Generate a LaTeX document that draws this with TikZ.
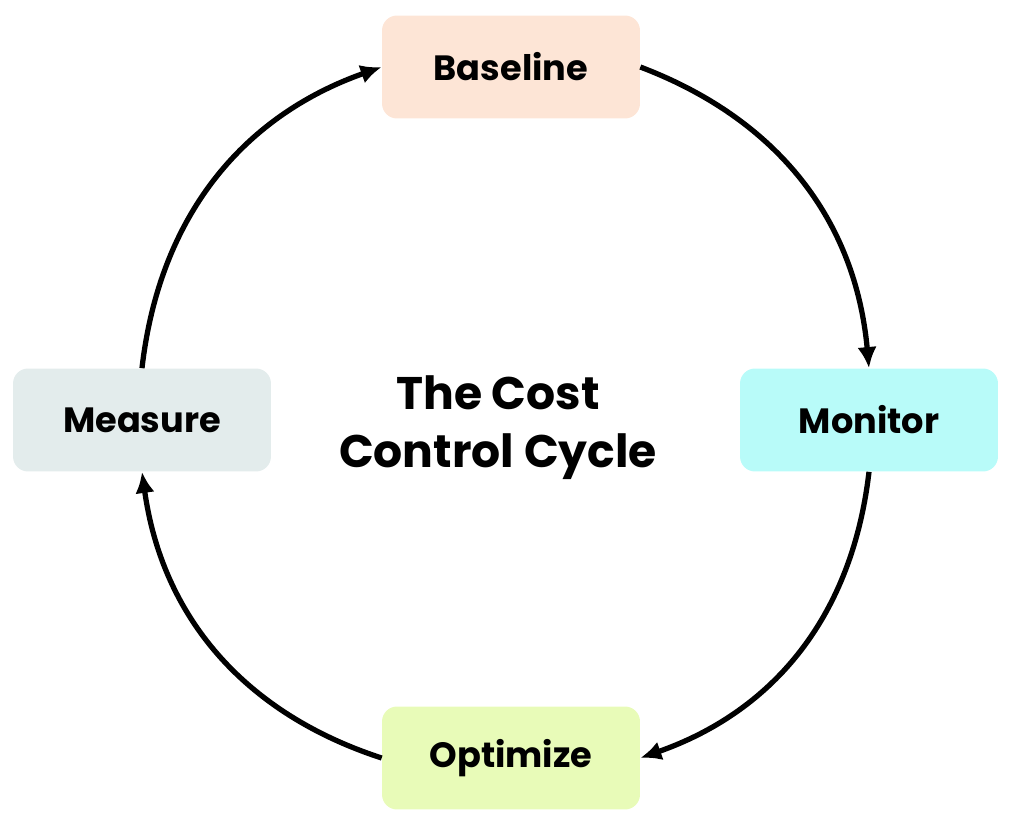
\documentclass[tikz,border=0pt]{standalone}
\usepackage{fontspec}
\setmainfont{Poppins}
\usetikzlibrary{arrows.meta}
\definecolor{basecol}{HTML}{FDE5D6}
\definecolor{moncol}{HTML}{B8FBF9}
\definecolor{meascol}{HTML}{E3ECEC}
\definecolor{optcol}{HTML}{E8FBB8}
\tikzset{
  stage/.style={rounded corners=0.3cm, minimum width=5.16cm, minimum height=2.06cm,
    font=\fontsize{20}{24}\selectfont\bfseries},
  loop arrow/.style={line width=3pt, -{Latex[length=12pt,width=11pt]}, bend left=32}
}
\begin{document}
\begin{tikzpicture}[x=0.02cm,y=-0.02cm]
    \useasboundingbox (0,0) rectangle (1012,825);
    % Define nodes for the four stages
    \node[stage, fill=basecol] (base) at (511,67) {Baseline};
    \node[stage, fill=moncol] (mon) at (869,420) {Monitor};
    \node[stage, fill=optcol] (opt) at (511,758) {Optimize};
    \node[stage, fill=meascol] (meas) at (142,420) {Measure};

    % Title in the middle
    \node[font=\fontsize{26}{33}\selectfont\bfseries, align=center] (title) at (498,428) {The Cost\\Control Cycle};

    % Draw the cycle arrows
    \draw[loop arrow] (base.east) to (mon.north);
    \draw[loop arrow] (mon.south) to (opt.east);
    \draw[loop arrow] (opt.west) to (meas.south);
    \draw[loop arrow] (meas.north) to (base.west);
\end{tikzpicture}
\end{document}
